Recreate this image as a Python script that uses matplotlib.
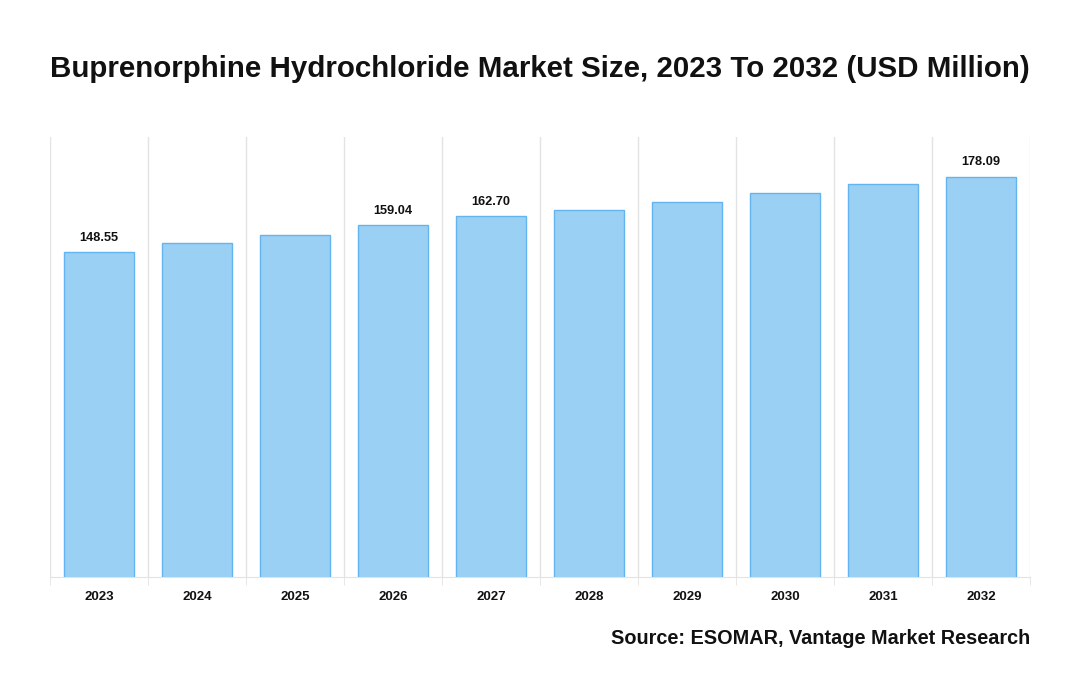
import matplotlib
matplotlib.use("Agg")
import matplotlib.pyplot as plt
import numpy as np

plt.rcParams['font.family'] = ['Liberation Sans', 'DejaVu Sans']

# data (unlabelled bars)
years = ["2023", "2024", "2025", "2026", "2027", "2028", "2029", "2030", "2031", "2032"]
values = [148.55, 152.2, 155.4, 159.04, 162.70, 165.0, 168.3, 171.6, 175.1, 178.09]
shown = ["2023", "2026", "2027", "2032"]

fig = plt.figure(figsize=(10.8, 7), dpi=100)
ax = fig.add_axes([50/1080, 123/700, 980/1080, 440/700])

x = np.arange(len(years))
ax.bar(x, values, width=0.714, color="#9BD0F5", edgecolor="#63B4EF", linewidth=1, zorder=3)

for i in range(len(years)):
    if years[i] in shown:
        ax.text(x[i], values[i] + 3.2, "%.2f" % values[i], ha="center", va="bottom",
                fontsize=9.2, fontweight="bold", color="#111111")

ax.set_xlim(-0.5, len(years) - 0.5)
ax.set_ylim(21.5, 193.6)

# vertical separators between categories
bounds = np.arange(len(years) + 1) - 0.5
for b in bounds:
    ax.axvline(b, color="#e3e3e3", linewidth=1, zorder=1)

ax.set_xticks(x)
ax.set_xticklabels(years, fontsize=9.5, fontweight="bold", color="#111111")
ax.tick_params(axis="x", which="major", length=0, pad=10)
ax.set_xticks(bounds, minor=True)
ax.tick_params(axis="x", which="minor", length=6, color="#e3e3e3")
ax.set_yticks([])

for s in ["top", "left", "right"]:
    ax.spines[s].set_visible(False)
ax.spines["bottom"].set_color("#e3e3e3")

fig.text(0.5, 1 - 69/700, "Buprenorphine Hydrochloride Market Size, 2023 To 2032 (USD Million)",
         ha="center", va="center", fontsize=21.25, fontweight="bold", color="#111111")
fig.text(1030/1080, 1 - 638/700, "Source: ESOMAR, Vantage Market Research",
         ha="right", va="center", fontsize=14.35, fontweight="bold", color="#111111")

fig.savefig("out.png", dpi=100)
